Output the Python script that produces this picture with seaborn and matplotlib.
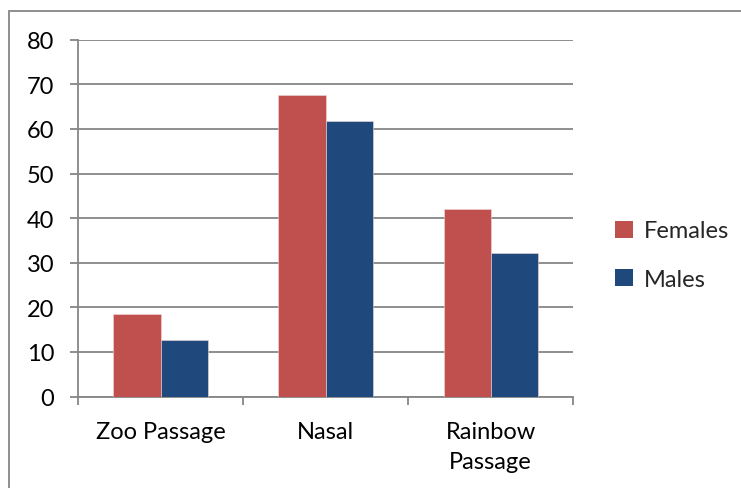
import matplotlib
matplotlib.use("Agg")
import matplotlib.pyplot as plt
import seaborn as sns
import pandas as pd
from matplotlib.patches import Rectangle, Patch

# Mean scores per reading passage
passages = ["Zoo Passage", "Nasal", "Rainbow\nPassage"]
females = [18.6, 67.6, 42.0]
males = [12.7, 61.7, 32.2]
series = ["Females", "Males"]
colors = ["#C0504D", "#1F497D"]
y_ticks = [0, 10, 20, 30, 40, 50, 60, 70, 80]

df = pd.DataFrame({
    "passage": passages * 2,
    "value": females + males,
    "sex": [series[0]] * len(passages) + [series[1]] * len(passages),
})

sns.set_theme(style="white")
plt.rcParams["font.family"] = ["Lato", "DejaVu Sans"]

W, H, DPI = 741, 489, 100
FS = 17
fig = plt.figure(figsize=(W / DPI, H / DPI), dpi=DPI)
ax = fig.add_axes([78 / W, 1 - 397.5 / H, (573.3 - 78) / W, (397.5 - 40.7) / H])

grey = "#868686"
sns.barplot(data=df, x="passage", y="value", hue="sex", order=passages,
            hue_order=series, palette=colors, width=0.572, gap=0,
            saturation=1, edgecolor="#f2d8d8", linewidth=0.4, ax=ax,
            legend=False, zorder=3)

ax.set_xlim(-0.5, len(passages) - 0.5)
ax.set_ylim(0, 80)
ax.set_yticks(y_ticks)
ax.set_yticklabels([str(t) for t in y_ticks])
ax.yaxis.grid(True, color=grey, linewidth=1.3, zorder=0)
ax.set_axisbelow(True)
ax.set_xlabel("")
ax.set_ylabel("")

for side in ["top", "right"]:
    ax.spines[side].set_visible(False)
for side in ["left", "bottom"]:
    ax.spines[side].set_color(grey)
    ax.spines[side].set_linewidth(1.3)

# Category labels centred, tick marks on category boundaries
ax.set_xticks(range(len(passages)))
ax.set_xticklabels(passages, fontsize=FS, color="black", linespacing=1.5,
                   va="top")
ax.set_xticks([i - 0.5 for i in range(len(passages) + 1)], minor=True)
ax.tick_params(axis="x", which="major", length=0, pad=18)
ax.tick_params(axis="x", which="minor", length=6, width=1.3, color=grey,
               direction="out", bottom=True)
ax.tick_params(axis="y", which="major", length=6, width=1.3, color=grey,
               direction="out", left=True, pad=11, labelsize=FS,
               labelcolor="black")

handles = [Patch(facecolor=c, edgecolor="none", label=s)
           for c, s in zip(colors, series)]
fig.legend(handles=handles, loc="upper left",
           bbox_to_anchor=(606 / W, 1 - 212 / H), frameon=False,
           fontsize=FS, handlelength=0.75, handleheight=0.75,
           handletextpad=0.45, labelspacing=1.15, borderaxespad=0)

# Outer chart frame
fig.add_artist(Rectangle((8.7 / W, -0.1), 1.2, 1 - 11.7 / H + 0.1,
                         transform=fig.transFigure, fill=False,
                         edgecolor=grey, linewidth=1.3))

fig.savefig("out.png", dpi=DPI, facecolor="white")
